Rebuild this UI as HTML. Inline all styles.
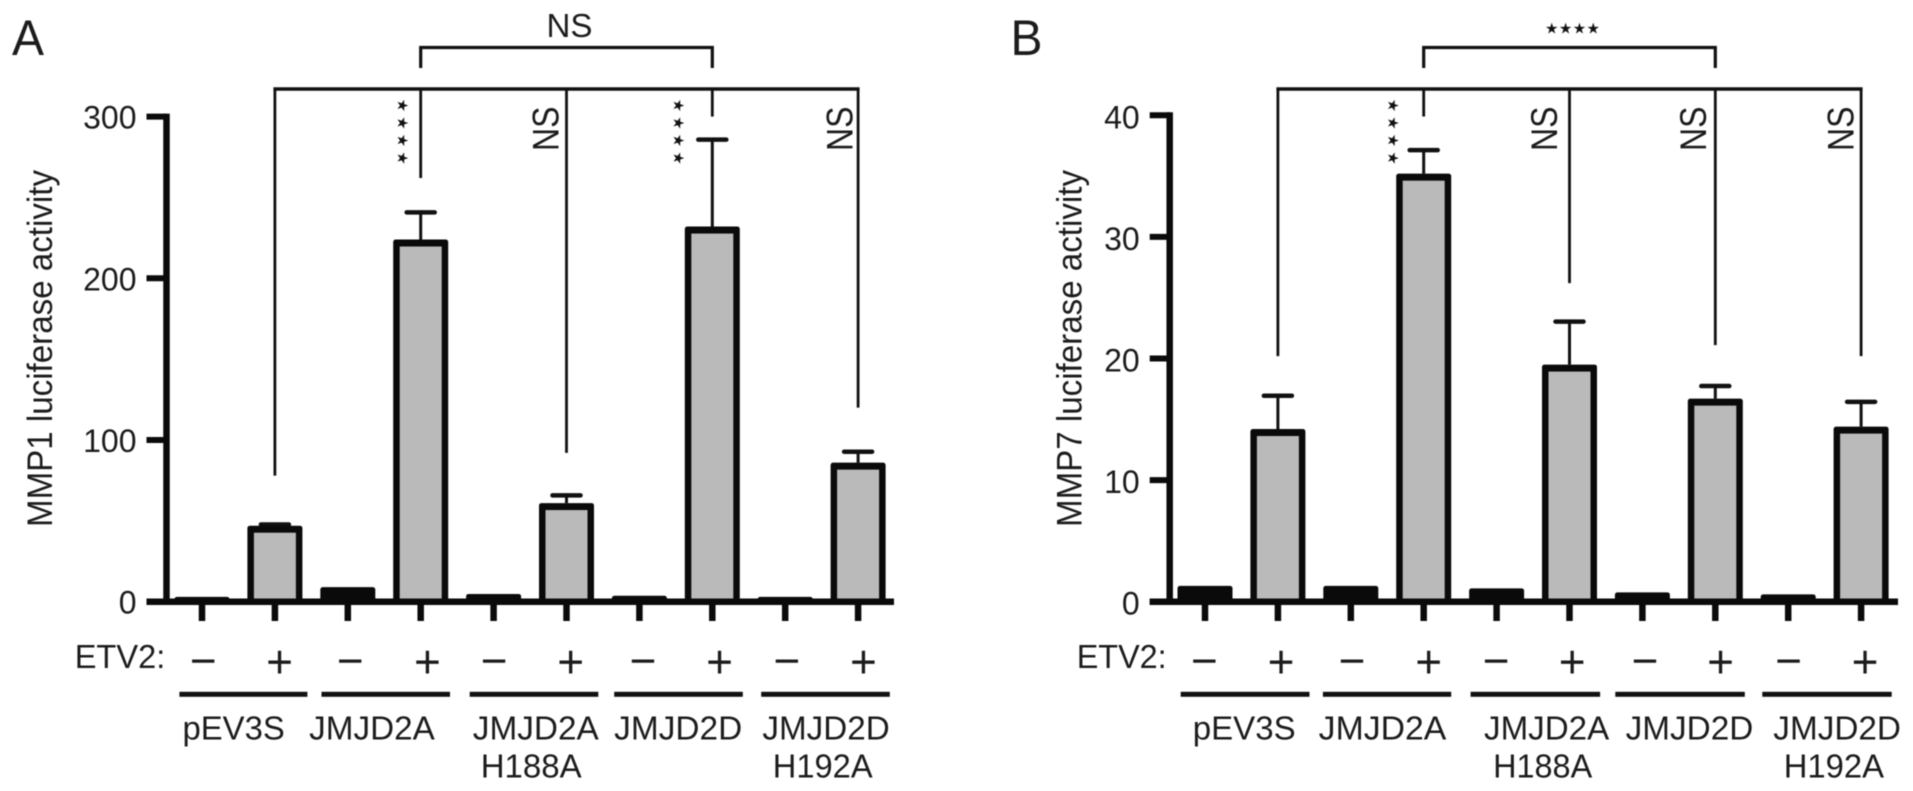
<!DOCTYPE html>
<html lang="en">
<head>
<meta charset="utf-8">
<title>MMP1 and MMP7 luciferase activity</title>
<style>
html,body{margin:0;padding:0;background:#fff;}
#figure{display:block;width:1913px;height:791px;filter:blur(0.6px);}
text{font-family:"Liberation Sans",Arial,sans-serif;fill:#1c1c1c;}
.star{font-family:"DejaVu Sans",sans-serif;font-size:15px;fill:#111;}
.lbl{font-size:33px;}
.sign{font-size:46px;text-anchor:middle;}
.ns{font-size:32px;}
.panel{font-size:50px;}
.ul{fill:#111;}
</style>
</head>
<body>
<svg id="figure" xmlns="http://www.w3.org/2000/svg" width="1913" height="791" viewBox="0 0 1913 791">
  <rect x="0" y="0" width="1913" height="791" fill="#fff"/>

  <g id="panelA">
    <text class="panel" x="12" y="55" textLength="32" lengthAdjust="spacingAndGlyphs">A</text>
    <text class="lbl" transform="translate(52,527) rotate(-90) scale(1,1.07)" textLength="357" lengthAdjust="spacingAndGlyphs">MMP1 luciferase activity</text>
    <g id="marksA"></g>
    <text class="lbl" x="569.5" y="37" text-anchor="middle" textLength="46" lengthAdjust="spacingAndGlyphs">NS</text>
    <text class="star" transform="translate(397.5,98.7) rotate(90)" letter-spacing="4.1">★★★★</text>
    <text class="star" transform="translate(673.3,98.7) rotate(90)" letter-spacing="4.1">★★★★</text>
    <text class="ns" transform="translate(558.5,151) rotate(-90) scale(1,1.15)">NS</text>
    <text class="ns" transform="translate(852.4,151) rotate(-90) scale(1,1.15)">NS</text>
    <text class="lbl" x="74.7" y="668" textLength="90.6" lengthAdjust="spacingAndGlyphs">ETV2:</text>
    <text class="sign" x="203.3" y="676.3">−</text>
    <text class="sign" x="279.5" y="677.3">+</text>
    <text class="sign" x="350.3" y="676.3">−</text>
    <text class="sign" x="427.4" y="677.3">+</text>
    <text class="sign" x="494.2" y="676.3">−</text>
    <text class="sign" x="570.7" y="677.3">+</text>
    <text class="sign" x="643" y="676.3">−</text>
    <text class="sign" x="719.5" y="677.3">+</text>
    <text class="sign" x="786.9" y="676.3">−</text>
    <text class="sign" x="863.4" y="677.3">+</text>
    <rect class="ul" x="179.4" y="691.8" width="128" height="5"/>
    <rect class="ul" x="321.5" y="691.8" width="128.5" height="5"/>
    <rect class="ul" x="469.7" y="691.8" width="128.6" height="5"/>
    <rect class="ul" x="614.2" y="691.8" width="128.6" height="5"/>
    <rect class="ul" x="761.2" y="691.8" width="128.6" height="5"/>
    <text class="lbl" x="182.5" y="739.3" textLength="102.3" lengthAdjust="spacingAndGlyphs">pEV3S</text>
    <text class="lbl" x="309.2" y="739.3" textLength="125.6" lengthAdjust="spacingAndGlyphs">JMJD2A</text>
    <text class="lbl" x="472.8" y="739.3" textLength="126" lengthAdjust="spacingAndGlyphs">JMJD2A</text>
    <text class="lbl" x="480.7" y="777.3" textLength="101" lengthAdjust="spacingAndGlyphs">H188A</text>
    <text class="lbl" x="614.2" y="739.3" textLength="128" lengthAdjust="spacingAndGlyphs">JMJD2D</text>
    <text class="lbl" x="762.4" y="739.3" textLength="127.4" lengthAdjust="spacingAndGlyphs">JMJD2D</text>
    <text class="lbl" x="772.8" y="777.3" textLength="99.8" lengthAdjust="spacingAndGlyphs">H192A</text>
  </g>

  <g id="panelB">
    <text class="panel" x="1010.5" y="55" textLength="32" lengthAdjust="spacingAndGlyphs">B</text>
    <text class="lbl" transform="translate(1081.6,527) rotate(-90) scale(1,1.07)" textLength="357" lengthAdjust="spacingAndGlyphs">MMP7 luciferase activity</text>
    <g id="marksB"></g>
    <text class="star" x="1545" y="33.5" letter-spacing="0.4">★★★★</text>
    <text class="star" transform="translate(1388.2,98.7) rotate(90)" letter-spacing="4.1">★★★★</text>
    <text class="ns" transform="translate(1557,151) rotate(-90) scale(1,1.15)">NS</text>
    <text class="ns" transform="translate(1705.9,151) rotate(-90) scale(1,1.15)">NS</text>
    <text class="ns" transform="translate(1853.6,151) rotate(-90) scale(1,1.15)">NS</text>
    <text class="lbl" x="1076.7" y="668" textLength="90" lengthAdjust="spacingAndGlyphs">ETV2:</text>
    <text class="sign" x="1204.4" y="676.3">−</text>
    <text class="sign" x="1281" y="677.3">+</text>
    <text class="sign" x="1352.1" y="676.3">−</text>
    <text class="sign" x="1428.7" y="677.3">+</text>
    <text class="sign" x="1496.2" y="676.3">−</text>
    <text class="sign" x="1572.2" y="677.3">+</text>
    <text class="sign" x="1645.1" y="676.3">−</text>
    <text class="sign" x="1720.5" y="677.3">+</text>
    <text class="sign" x="1788.7" y="676.3">−</text>
    <text class="sign" x="1865" y="677.3">+</text>
    <rect class="ul" x="1180.7" y="691.8" width="128.8" height="5"/>
    <rect class="ul" x="1322.9" y="691.8" width="128.3" height="5"/>
    <rect class="ul" x="1470.6" y="691.8" width="129.5" height="5"/>
    <rect class="ul" x="1615.3" y="691.8" width="129.5" height="5"/>
    <rect class="ul" x="1762.3" y="691.8" width="129.4" height="5"/>
    <text class="lbl" x="1192.8" y="739.3" textLength="102.8" lengthAdjust="spacingAndGlyphs">pEV3S</text>
    <text class="lbl" x="1318.7" y="739.3" textLength="127.6" lengthAdjust="spacingAndGlyphs">JMJD2A</text>
    <text class="lbl" x="1484" y="739.3" textLength="125.2" lengthAdjust="spacingAndGlyphs">JMJD2A</text>
    <text class="lbl" x="1493.1" y="777.3" textLength="99.1" lengthAdjust="spacingAndGlyphs">H188A</text>
    <text class="lbl" x="1625.6" y="739.3" textLength="127.7" lengthAdjust="spacingAndGlyphs">JMJD2D</text>
    <text class="lbl" x="1773.3" y="739.3" textLength="127.7" lengthAdjust="spacingAndGlyphs">JMJD2D</text>
    <text class="lbl" x="1783.7" y="777.3" textLength="100.3" lengthAdjust="spacingAndGlyphs">H192A</text>
  </g>
</svg>

<script>
// ---- data ----
const categories = ['pEV3S-','pEV3S+','JMJD2A-','JMJD2A+','H188A-','H188A+','JMJD2D-','JMJD2D+','H192A-','H192A+'];

const mmp1Values = [3, 47, 9, 224, 4.8, 61, 3.7, 232, 3, 86];
const mmp1Upper  = [null, 49, null, 242, null, 67, null, 287, null, 94];
const mmp1Ticks  = [0, 100, 200, 300];
const mmp1LegEnds = [78, 262, 92, 300, 120];

const mmp7Values = [1.3, 14.2, 1.3, 35.2, 1.1, 19.5, 0.77, 16.7, 0.6, 14.4];
const mmp7Upper  = [null, 17.1, null, 37.3, null, 23.2, null, 17.9, null, 16.6];
const mmp7Ticks  = [0, 10, 20, 30, 40];
const mmp7LegEnds = [20.2, 39.9, 26.2, 21.1, 20.2];

// category indices joined by the comparison brackets
const comparedBars = [1, 3, 5, 7, 9];
const upperBracketBars = [3, 7];

// ---- drawing ----
const NS = 'http://www.w3.org/2000/svg';
function svgEl(parent, tag, attrs) {
  const el = document.createElementNS(NS, tag);
  for (const k in attrs) el.setAttribute(k, attrs[k]);
  parent.appendChild(el);
  return el;
}

function drawPanel(cfg) {
  const g = document.getElementById(cfg.id);
  const x = i => cfg.x0 + cfg.step * i;
  const y = v => cfg.y0 - v * cfg.perUnit;
  const halfBar = 27.5, sw = 6.5, topSw = 7, capHalf = 14;

  // error bars (behind the bars)
  cfg.upper.forEach((u, i) => {
    if (u === null) return;
    const stem = svgEl(g, 'line', {x1: x(i), x2: x(i), y1: y(u), y2: y(cfg.values[i]), stroke: '#111', 'stroke-width': 3});
    
    
    const cap = svgEl(g, 'line', {x1: x(i) - capHalf, x2: x(i) + capHalf, y1: y(u) + 2, y2: y(u) + 2, stroke: '#111', 'stroke-width': 4.5, 'stroke-linecap': 'round'});
    
    
  });

  // bars: short bars read as solid black because their frame fills them
  cfg.values.forEach((v, i) => {
    const top = y(v);
    const frame = svgEl(g, 'rect', {x: x(i) - halfBar, y: top, width: halfBar * 2, height: cfg.y0 - top, fill: '#0a0a0a', rx: 2.5});
    
    
    const innerH = cfg.y0 - top - topSw;
    if (innerH > 18) {
      const fill = svgEl(g, 'rect', {x: x(i) - halfBar + sw, y: top + topSw, width: (halfBar - sw) * 2, height: innerH, fill: '#bababa'});
      
      
    }
  });

  // axes
  const yTop = y(cfg.ticks[cfg.ticks.length - 1]);
  const yAxis = svgEl(g, 'line', {x1: cfg.axisX, x2: cfg.axisX, y1: yTop - 3, y2: cfg.y0, stroke: '#0a0a0a', 'stroke-width': 6.5});
  
  
  const xAxis = svgEl(g, 'line', {x1: cfg.axisX - 20, x2: cfg.axisEnd, y1: cfg.y0, y2: cfg.y0, stroke: '#0a0a0a', 'stroke-width': 6.5});
  
  

  cfg.ticks.forEach(t => {
    const tick = svgEl(g, 'line', {x1: cfg.axisX - 20, x2: cfg.axisX, y1: y(t), y2: y(t), stroke: '#0a0a0a', 'stroke-width': 6});
    
    
    const label = svgEl(g, 'text', {x: cfg.axisX - 30, y: y(t) + cfg.tickDy, 'text-anchor': 'end', 'font-size': 32});
    label.textContent = t;
    
    
  });

  categories.forEach((c, i) => {
    const tick = svgEl(g, 'line', {x1: x(i), x2: x(i), y1: cfg.y0, y2: 621, stroke: '#0a0a0a', 'stroke-width': 6.5});
    
    
  });

  // lower comparison bracket
  const first = comparedBars[0], last = comparedBars[comparedBars.length - 1];
  const lower = svgEl(g, 'line', {x1: x(first) - 1.5, x2: x(last) + 1.5, y1: 89, y2: 89, stroke: '#111', 'stroke-width': 3.5});
  
  
  comparedBars.forEach((b, k) => {
    const leg = svgEl(g, 'line', {x1: x(b), x2: x(b), y1: 89, y2: y(cfg.legEnds[k]), stroke: '#111', 'stroke-width': 2.8});
    
    
  });

  // upper comparison bracket
  const a = x(upperBracketBars[0]), b = x(upperBracketBars[1]);
  const upper = svgEl(g, 'path', {d: 'M' + a + ' 68V47.5H' + b + 'V68', fill: 'none', stroke: '#111', 'stroke-width': 3.2});
  
  
}

drawPanel({id: 'marksA', x0: 202, step: 72.9, y0: 601.7, perUnit: 1.617, axisX: 166.5, axisEnd: 894,
           values: mmp1Values, upper: mmp1Upper, ticks: mmp1Ticks, legEnds: mmp1LegEnds, tickDy: 12});
drawPanel({id: 'marksB', x0: 1205, step: 72.9, y0: 601.7, perUnit: 12.16, axisX: 1169.7, axisEnd: 1898,
           values: mmp7Values, upper: mmp7Upper, ticks: mmp7Ticks, legEnds: mmp7LegEnds, tickDy: 13});
</script>
</body>
</html>
